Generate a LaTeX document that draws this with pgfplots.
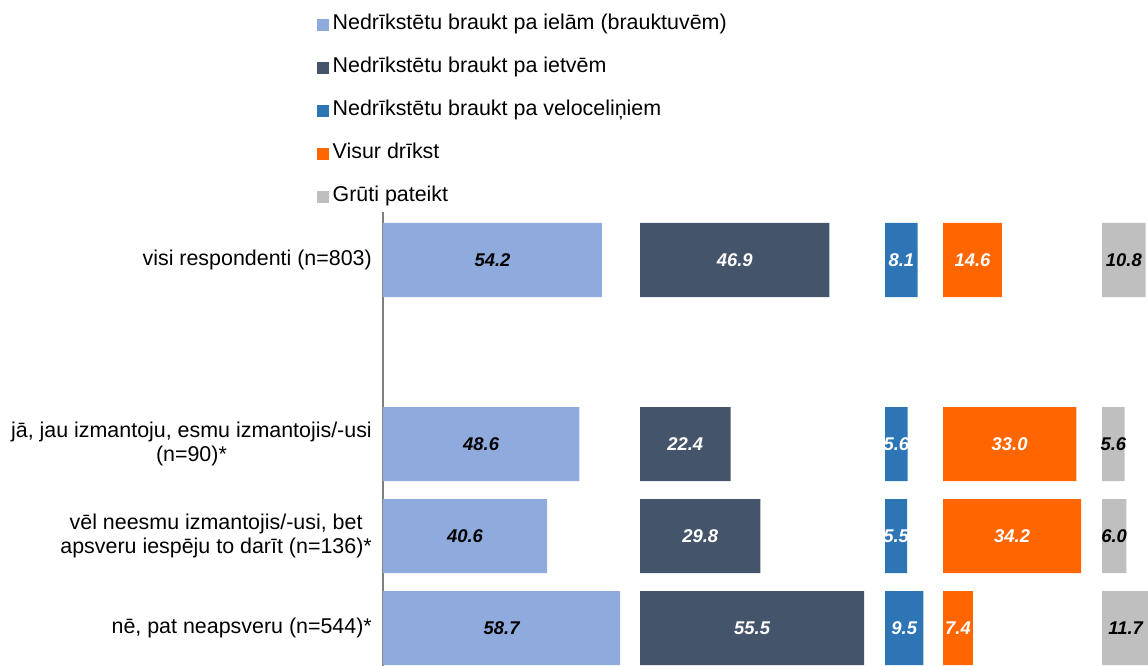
\documentclass[border=0pt]{standalone}
\usepackage{pgfplots}
\pgfplotsset{compat=1.18}
\usepackage{fontspec}
\setmainfont{Liberation Sans}
\definecolor{cA}{HTML}{8FAADC}
\definecolor{cB}{HTML}{44546A}
\definecolor{cC}{HTML}{2E75B6}
\definecolor{cD}{HTML}{FF6600}
\definecolor{cE}{HTML}{BFBFBF}
\definecolor{axgray}{HTML}{7F7F7F}
\pgfplotsset{
  panel/.style={
    x=4.04bp, y=92bp, xmin=0, ymin=-0.413, ymax=4.52,
    xbar, bar width=74bp, bar shift=0pt,
    anchor=south west,
    point meta=x,
    visualization depends on={x \as \rawx},
    nodes near coords={\pgfmathprintnumber[fixed,fixed zerofill,precision=1,assume math mode=true]{\pgfplotspointmeta}},
    nodes near coords style={anchor=center, inner sep=0pt, font=\fontsize{18.5}{20}\selectfont\bfseries\itshape, shift={(axis direction cs:-\rawx/2,0)}},
    clip=false,
  },
}
\begin{document}
\begin{tikzpicture}
\useasboundingbox (0,0) rectangle (1148bp,666bp);
% Panel 1
\begin{axis}[panel, at={(383bp,0bp)}, xmax=63,
  axis x line=none, axis y line=left,
  y axis line style={-, draw=axgray, line width=1.3bp},
  ytick={0,1,2,4},
  yticklabels={{nē, pat neapsveru (n=544)*},{vēl neesmu izmantojis/-usi, bet\\apsveru iespēju to darīt (n=136)*},{jā, jau izmantoju, esmu izmantojis/-usi\\(n=90)*},{visi respondenti (n=803)}},
  major tick length=0pt,
  yticklabel style={align=center, inner sep=0pt, xshift=-11bp, font=\fontsize{21.5}{24}\selectfont},
  legend style={at={(-0.259,1.439)}, anchor=north west, draw=none, fill=none, inner sep=0pt, row sep=22bp, font=\fontsize{21.5}{24}\selectfont, nodes={inner sep=0pt, text height=16bp, text depth=5bp}},
  legend cell align=left,
  nodes near coords style={text=black},
]
\addplot[fill=cA, draw=none, forget plot] coordinates {(54.2,4) (48.6,2) (40.6,1) (58.7,0)};
\addlegendimage{legend image code/.code={\fill[cA] (0bp,-7bp) rectangle (11bp,4bp);}}
\addlegendentry{\hspace{4bp}Nedrīkstētu braukt pa ielām (brauktuvēm)}
\addlegendimage{legend image code/.code={\fill[cB] (0bp,-7bp) rectangle (11bp,4bp);}}
\addlegendentry{\hspace{4bp}Nedrīkstētu braukt pa ietvēm}
\addlegendimage{legend image code/.code={\fill[cC] (0bp,-7bp) rectangle (11bp,4bp);}}
\addlegendentry{\hspace{4bp}Nedrīkstētu braukt pa veloceliņiem}
\addlegendimage{legend image code/.code={\fill[cD] (0bp,-7bp) rectangle (11bp,4bp);}}
\addlegendentry{\hspace{4bp}Visur drīkst}
\addlegendimage{legend image code/.code={\fill[cE] (0bp,-7bp) rectangle (11bp,4bp);}}
\addlegendentry{\hspace{4bp}Grūti pateikt}
\end{axis}
% Panel 2
\begin{axis}[panel, at={(640bp,0bp)}, xmax=60, hide axis, nodes near coords style={text=white}]
\addplot[fill=cB, draw=none] coordinates {(46.9,4) (22.4,2) (29.8,1) (55.5,0)};
\end{axis}
% Panel 3
\begin{axis}[panel, at={(885bp,0bp)}, xmax=14, hide axis, nodes near coords style={text=white}]
\addplot[fill=cC, draw=none] coordinates {(8.1,4) (5.6,2) (5.5,1) (9.5,0)};
\end{axis}
% Panel 4
\begin{axis}[panel, at={(943bp,0bp)}, xmax=39, hide axis, nodes near coords style={text=white}]
\addplot[fill=cD, draw=none] coordinates {(14.6,4) (33.0,2) (34.2,1) (7.4,0)};
\end{axis}
% Panel 5
\begin{axis}[panel, at={(1102bp,0bp)}, xmax=12, hide axis, nodes near coords style={text=black}]
\addplot[fill=cE, draw=none] coordinates {(10.8,4) (5.6,2) (6.0,1) (11.7,0)};
\end{axis}
\end{tikzpicture}
\end{document}
